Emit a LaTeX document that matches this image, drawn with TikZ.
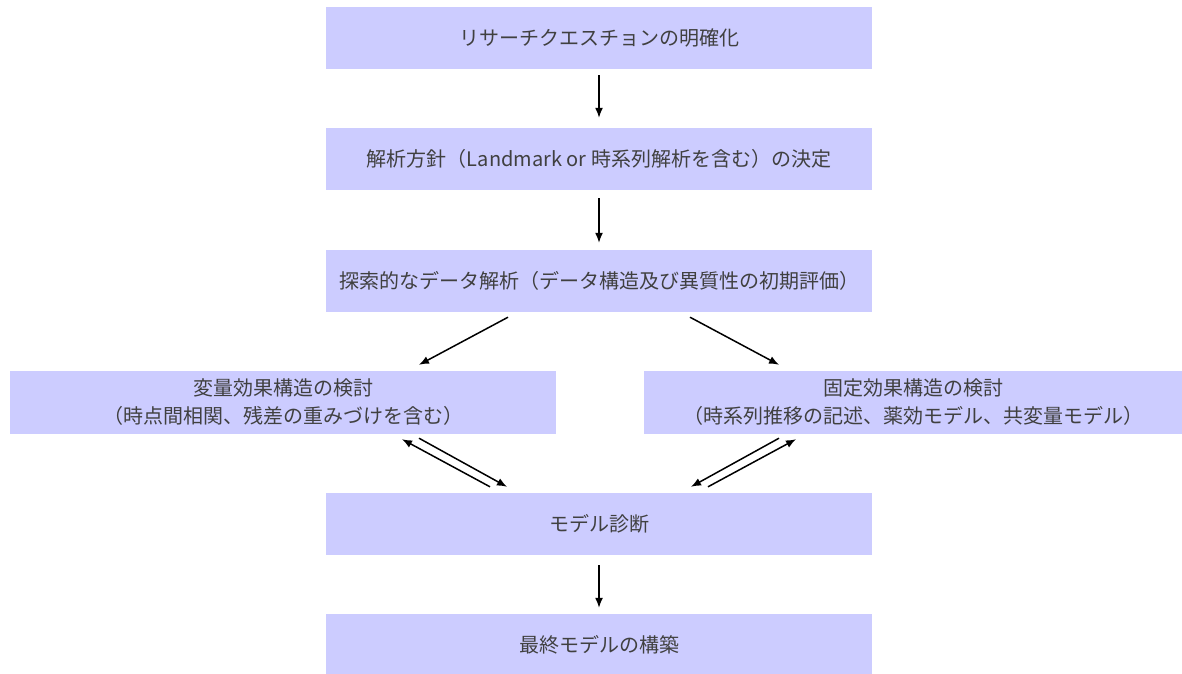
\documentclass[tikz,border=0pt]{standalone}
\usepackage{fontspec}
\setmainfont{Noto Sans CJK JP}
\usetikzlibrary{arrows.meta}
\definecolor{boxfill}{HTML}{CCCCFF}
\definecolor{txt}{HTML}{404040}
\tikzset{
  stepbox/.style={rectangle, fill=boxfill, draw=none, inner sep=0pt,
    minimum width=546pt, minimum height=62pt, align=center,
    text=txt, font=\fontsize{20}{28}\selectfont},
  arr/.style={-{Latex[length=10pt,width=8pt]}, line width=1.5pt, black}
}
\begin{document}
\begin{tikzpicture}[x=1pt,y=-1pt]
\useasboundingbox (0,0) rectangle (1182,673);
\node[stepbox] (b1) at (599,38) {リサーチクエスチョンの明確化};
\node[stepbox] (b2) at (599,159) {解析方針（Landmark or 時系列解析を含む）の決定};
\node[stepbox] (b3) at (599,281) {探索的なデータ解析（データ構造及び異質性の初期評価）};
\node[stepbox, minimum height=63pt] (b4) at (283,402.5) {変量効果構造の検討\\（時点間相関、残差の重みづけを含む）};
\node[stepbox, minimum height=63pt, minimum width=538pt] (b5) at (913,402.5) {固定効果構造の検討\\（時系列推移の記述、薬効モデル、共変量モデル）};
\node[stepbox] (b6) at (599,524) {モデル診断};
\node[stepbox] (b7) at (599,645) {最終モデルの構築};

\draw[arr, shorten <=6pt, shorten >=10pt] (b1.south) -- (b2.north);
\draw[arr, shorten <=8pt, shorten >=7pt] (b2.south) -- (b3.north);
\draw[arr] ([xshift=-91pt,yshift=-5pt]b3.south) -- ([xshift=136pt,yshift=6pt]b4.north);
\draw[arr] ([xshift=91pt,yshift=-5pt]b3.south) -- ([xshift=-134pt,yshift=6pt]b5.north);
\draw[arr] ([xshift=-109pt,yshift=6pt]b6.north) -- ([xshift=119pt,yshift=-5pt]b4.south);
\draw[arr] ([xshift=136pt,yshift=-4pt]b4.south) -- ([xshift=-92pt,yshift=6pt]b6.north);
\draw[arr] ([xshift=-134pt,yshift=-4pt]b5.south) -- ([xshift=92pt,yshift=6pt]b6.north);
\draw[arr] ([xshift=109pt,yshift=6pt]b6.north) -- ([xshift=-117pt,yshift=-5pt]b5.south);
\draw[arr, shorten <=10pt, shorten >=6pt] (b6.south) -- (b7.north);
\end{tikzpicture}
\end{document}
